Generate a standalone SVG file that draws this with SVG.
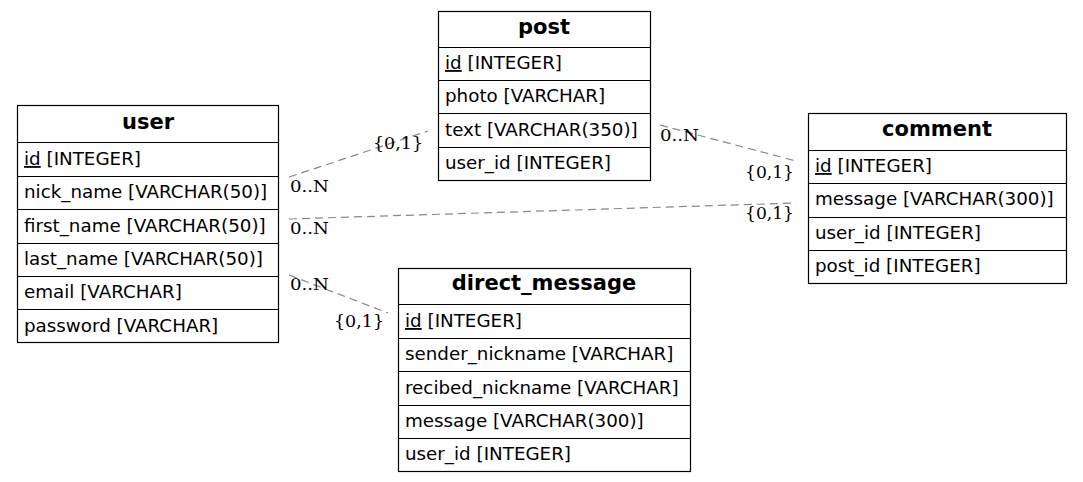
<svg xmlns="http://www.w3.org/2000/svg" width="1083" height="482" viewBox="0 0 1083 482">
<style>
.box{fill:#fff;stroke:#000;stroke-width:1.2}
.sep{stroke:#000;stroke-width:1.2}
.t{font-family:"DejaVu Sans",sans-serif;font-size:18.3px;fill:#000}
.h{font-family:"DejaVu Sans",sans-serif;font-size:21px;font-weight:bold;fill:#000;text-anchor:middle}
.u{text-decoration:underline}
.e{stroke:#888;stroke-width:1.2;stroke-dasharray:8,5;fill:none}
.l{font-family:"DejaVu Serif",serif;font-size:16.5px;fill:#000}
</style>
<rect width="1083" height="482" fill="#fff"/>
<g id="connectors">
<line class="e" x1="289" y1="177" x2="428" y2="131"/>
<line class="e" x1="289" y1="219" x2="796" y2="203"/>
<line class="e" x1="289" y1="275" x2="388" y2="313"/>
<line class="e" x1="660" y1="125" x2="796" y2="161"/>
<text class="l" x="373" y="149" textLength="50" lengthAdjust="spacingAndGlyphs">{0,1}</text>
<text class="l" x="290" y="192" textLength="39" lengthAdjust="spacingAndGlyphs">0..N</text>
<text class="l" x="290" y="234" textLength="39" lengthAdjust="spacingAndGlyphs">0..N</text>
<text class="l" x="745" y="219" textLength="49" lengthAdjust="spacingAndGlyphs">{0,1}</text>
<text class="l" x="290" y="290" textLength="39" lengthAdjust="spacingAndGlyphs">0..N</text>
<text class="l" x="334" y="327" textLength="50" lengthAdjust="spacingAndGlyphs">{0,1}</text>
<text class="l" x="660" y="141" textLength="39" lengthAdjust="spacingAndGlyphs">0..N</text>
<text class="l" x="745" y="178" textLength="49" lengthAdjust="spacingAndGlyphs">{0,1}</text>
</g>
<g id="user">
<rect class="box" x="17.5" y="105.5" width="261" height="237"/>
<path class="sep" d="M17.5 142.5H278.5M17.5 176.5H278.5M17.5 209.5H278.5M17.5 243.5H278.5M17.5 276.5H278.5M17.5 309.5H278.5"/>
<text class="h" x="148" y="129">user</text>
<text class="t" x="24" y="165"><tspan class="u">id</tspan> [INTEGER]</text>
<text class="t" x="24" y="198">nick_name [VARCHAR(50)]</text>
<text class="t" x="24" y="232">first_name [VARCHAR(50)]</text>
<text class="t" x="24" y="265">last_name [VARCHAR(50)]</text>
<text class="t" x="24" y="298">email [VARCHAR]</text>
<text class="t" x="24" y="332">password [VARCHAR]</text>
</g>
<g id="post">
<rect class="box" x="438.5" y="11.5" width="212" height="169"/>
<path class="sep" d="M438.5 47.5H650.5M438.5 80.5H650.5M438.5 113.5H650.5M438.5 147.5H650.5"/>
<text class="h" x="544" y="34">post</text>
<text class="t" x="445" y="69"><tspan class="u">id</tspan> [INTEGER]</text>
<text class="t" x="445" y="102">photo [VARCHAR]</text>
<text class="t" x="445" y="136">text [VARCHAR(350)]</text>
<text class="t" x="445" y="169">user_id [INTEGER]</text>
</g>
<g id="comment">
<rect class="box" x="808.5" y="113.5" width="258" height="170"/>
<path class="sep" d="M808.5 150.5H1066.5M808.5 183.5H1066.5M808.5 217.5H1066.5M808.5 250.5H1066.5"/>
<text class="h" x="937" y="136">comment</text>
<text class="t" x="815" y="172"><tspan class="u">id</tspan> [INTEGER]</text>
<text class="t" x="815" y="205">message [VARCHAR(300)]</text>
<text class="t" x="815" y="239">user_id [INTEGER]</text>
<text class="t" x="815" y="272">post_id [INTEGER]</text>
</g>
<g id="direct_message">
<rect class="box" x="398.5" y="268.5" width="292" height="203"/>
<path class="sep" d="M398.5 304.5H690.5M398.5 338.5H690.5M398.5 371.5H690.5M398.5 405.5H690.5M398.5 438.5H690.5"/>
<text class="h" x="544" y="290">direct_message</text>
<text class="t" x="405" y="327"><tspan class="u">id</tspan> [INTEGER]</text>
<text class="t" x="405" y="360">sender_nickname [VARCHAR]</text>
<text class="t" x="405" y="394">recibed_nickname [VARCHAR]</text>
<text class="t" x="405" y="427">message [VARCHAR(300)]</text>
<text class="t" x="405" y="460">user_id [INTEGER]</text>
</g>
</svg>
